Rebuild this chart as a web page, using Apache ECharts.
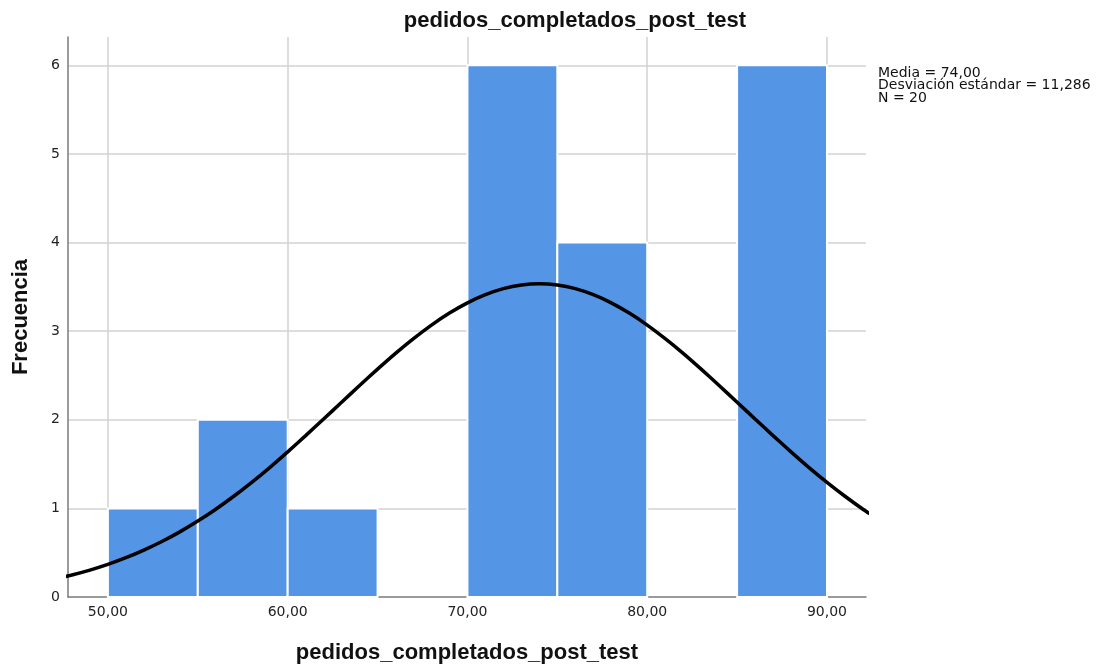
<!DOCTYPE html>
<html>
<head>
<meta charset="utf-8">
<script src="https://cdn.jsdelivr.net/npm/echarts@6/dist/echarts.min.js"></script>
<style>
html,body{margin:0;padding:0;background:#fff;}
#chart{width:1104px;height:666px;}
</style>
</head>
<body>
<div id="chart"></div>
<script>
// Histogram bins (lower edge), bin width and counts
const binLower = [50, 55, 60, 65, 70, 75, 80, 85];
const binWidth = 5;
const counts = [1, 2, 1, 0, 6, 4, 0, 6];

// Normal curve (x, frequency)
const curveX = [46, 47, 48, 49, 50, 51, 52, 53, 54, 55, 56, 57, 58, 59, 60, 61, 62, 63, 64, 65, 66, 67, 68, 69,
                70, 71, 72, 73, 74, 75, 76, 77, 78, 79, 80, 81, 82, 83, 84, 85, 86, 87, 88, 89, 90, 91, 92, 93];
const curveY = [0.163, 0.202, 0.249, 0.304, 0.368, 0.443, 0.529, 0.626, 0.735, 0.857, 0.991, 1.137, 1.294, 1.461,
                1.638, 1.821, 2.009, 2.198, 2.387, 2.572, 2.750, 2.916, 3.069, 3.204, 3.320, 3.412, 3.480, 3.521,
                3.535, 3.521, 3.480, 3.412, 3.320, 3.204, 3.069, 2.916, 2.750, 2.572, 2.387, 2.198, 2.009, 1.821,
                1.638, 1.461, 1.294, 1.137, 0.991, 0.857];

const yTicks = [0, 1, 2, 3, 4, 5, 6];
const statsLines = ['Media = 74,00', 'Desviación estándar = 11,286', 'N = 20'];
const titleText = 'pedidos_completados_post_test';
const xName = 'pedidos_completados_post_test';
const yName = 'Frecuencia';

const barData = [];
binLower.forEach((lo, i) => { if (counts[i] > 0) barData.push([lo, lo + binWidth, counts[i]]); });
const lineData = curveX.map((x, i) => [x, curveY[i]]);

const chart = echarts.init(document.getElementById('chart'), null, {renderer: 'canvas'});
const gridColor = '#d2d2d2';
const axisColor = '#7a7a7a';

chart.setOption({
  animation: false,
  backgroundColor: '#ffffff',
  grid: {left: 68, right: 238, top: 37, bottom: 69, containLabel: false, outerBoundsMode: 'none'},
  xAxis: {
    type: 'value',
    min: 47.78,
    max: 92.17,
    name: xName,
    nameLocation: 'middle',
    nameGap: 45,
    nameTextStyle: {fontFamily: 'Liberation Sans', fontWeight: 'bold', fontSize: 22, color: '#111'},
    axisLine: {show: true, onZero: false, lineStyle: {color: axisColor, width: 1.5}},
    axisTick: {show: false},
    axisLabel: {
      showMinLabel: false, showMaxLabel: false,
      margin: 8,
      fontFamily: 'DejaVu Sans', fontSize: 14, color: '#222',
      formatter: v => v.toFixed(2).replace('.', ',')
    },
    splitLine: {show: true, showMinLine: false, showMaxLine: false, lineStyle: {color: gridColor, width: 1.5}}
  },
  yAxis: {
    type: 'value',
    min: 0,
    max: 6.32,
    interval: 1,
    name: yName,
    nameLocation: 'middle',
    nameGap: 36,
    nameRotate: 90,
    nameTextStyle: {fontFamily: 'Liberation Sans', fontWeight: 'bold', fontSize: 22, color: '#111'},
    axisLine: {show: true, lineStyle: {color: axisColor, width: 1.5}},
    axisTick: {show: false},
    axisLabel: {
      showMaxLabel: false,
      margin: 8,
      fontFamily: 'DejaVu Sans', fontSize: 14, color: '#222',
      formatter: v => (yTicks.indexOf(v) >= 0 ? String(v) : '')
    },
    splitLine: {show: true, showMinLine: false, showMaxLine: false, lineStyle: {color: gridColor, width: 1.5}}
  },
  graphic: [
    {
      type: 'text',
      style: {
        text: titleText, x: 575, y: 21,
        textAlign: 'center', textVerticalAlign: 'middle',
        font: 'bold 22px "Liberation Sans"', fill: '#111'
      }
    },
    {
      type: 'text',
      style: {
        text: statsLines.join('\n'), x: 878, y: 67,
        textAlign: 'left', textVerticalAlign: 'top',
        font: '14px "DejaVu Sans"', lineHeight: 12.5, fill: '#111'
      }
    }
  ],
  series: [
    {
      type: 'custom',
      z: 2,
      data: barData,
      encode: {x: [0, 1], y: 2},
      renderItem: function (params, api) {
        const p0 = api.coord([api.value(0), api.value(2)]);
        const p1 = api.coord([api.value(1), 0]);
        return {
          type: 'rect',
          shape: {x: p0[0], y: p0[1], width: p1[0] - p0[0], height: p1[1] - p0[1]},
          style: {fill: '#5595e5', stroke: '#ffffff', lineWidth: 2}
        };
      }
    },
    {
      type: 'line',
      z: 5,
      data: lineData,
      smooth: 0.2,
      symbol: 'none',
      clip: true,
      lineStyle: {color: '#000', width: 3.5}
    }
  ]
});
</script>
</body>
</html>
